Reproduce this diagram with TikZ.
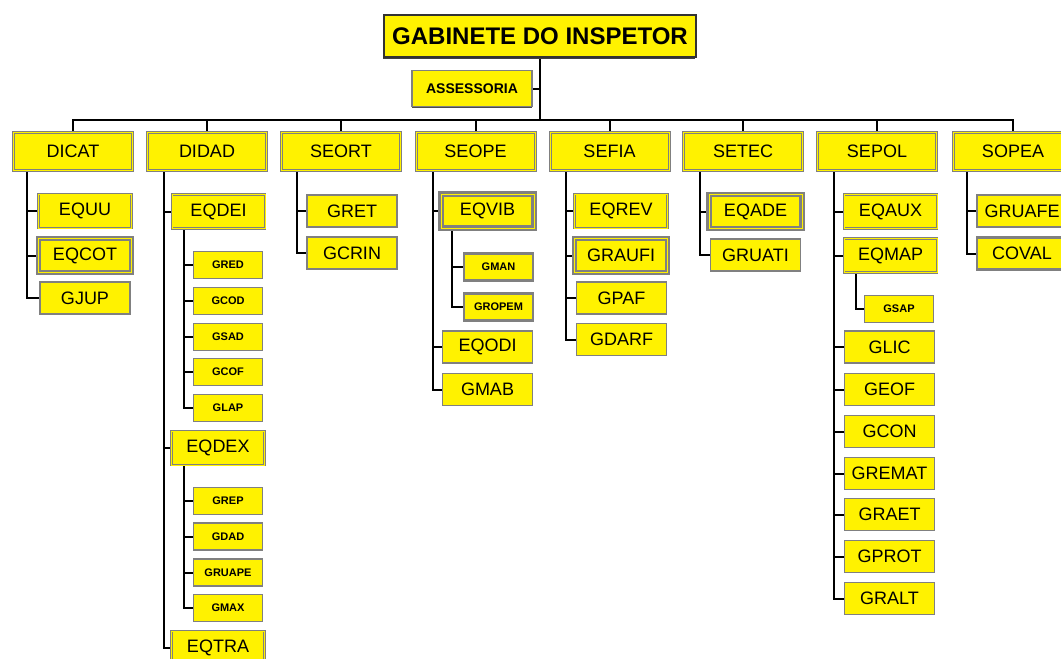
\documentclass[tikz,border=0pt]{standalone}
\usepackage{fontspec}
\setmainfont{Liberation Sans}
\usetikzlibrary{shadows,backgrounds}
\begin{document}
\begin{tikzpicture}[x=1pt,y=-1pt,
  chefe/.style={fill=yellow, draw=black!80, line width=2pt, minimum width=312pt, minimum height=42pt, inner sep=0pt,
    drop shadow={shadow xshift=-1pt, shadow yshift=-1.5pt, fill=black!75, opacity=1},
    font=\fontsize{24}{26}\selectfont\bfseries},
  assessor/.style={fill=yellow, draw=gray, line width=1.6pt, minimum width=120pt, minimum height=36pt, inner sep=0pt,
    drop shadow={shadow xshift=0pt, shadow yshift=-1.5pt, fill=black!70, opacity=1},
    font=\fontsize{14}{16}\selectfont\bfseries},
  secao/.style={fill=yellow, draw=gray, double=yellow, double distance=1pt, line width=1pt,
    minimum width=119pt, minimum height=38pt, inner sep=0pt,
    drop shadow={shadow xshift=0pt, shadow yshift=-1.8pt, fill=black!75, opacity=1},
    font=\fontsize{18}{20}\selectfont},
  equipe/.style={fill=yellow, draw=gray, double=yellow, double distance=0.8pt, line width=1pt,
    minimum width=93pt, minimum height=34pt, inner sep=0pt, font=\fontsize{18}{20}\selectfont},
  grupo/.style={fill=yellow, draw=gray, line width=1.3pt,
    minimum width=90pt, minimum height=32pt, inner sep=0pt, font=\fontsize{18}{20}\selectfont},
  sub/.style={fill=yellow, draw=gray, line width=1.3pt,
    minimum width=69pt, minimum height=27pt, inner sep=0pt, font=\fontsize{11}{12}\selectfont\bfseries},
  forte/.style={line width=2.4pt},
  link/.style={draw=black, line width=2pt}]
\useasboundingbox (0,0) rectangle (1061,659);
\clip (0,0) rectangle (1061,659);

\node[chefe] (gab) at (540,36) {GABINETE DO INSPETOR};
\node[assessor] (assess) at (472,88.5) {ASSESSORIA};
\coordinate (bar) at (540,120);

\node[secao] (dicat) at (73,151.5) {DICAT};
\node[secao] (didad) at (207,151.5) {DIDAD};
\node[secao] (seort) at (341,151.5) {SEORT};
\node[secao] (seope) at (475.5,151.5) {SEOPE};
\node[secao] (sefia) at (609.5,151.5) {SEFIA};
\node[secao] (setec) at (743,151.5) {SETEC};
\node[secao] (sepol) at (877,151.5) {SEPOL};
\node[secao] (sopea) at (1013,151.5) {SOPEA};

\node[equipe] (equu) at (85,211) {EQUU};
\node[equipe,forte] (eqcot) at (85,255.5) {EQCOT};
\node[grupo] (gjup) at (85,298) {GJUP};

\node[equipe] (eqdei) at (218.5,211.5) {EQDEI};
\node[sub] (gred) at (228,265) {GRED};
\node[sub] (gcod) at (228,301) {GCOD};
\node[sub] (gsad) at (228,337) {GSAD};
\node[sub] (gcof) at (228,372) {GCOF};
\node[sub] (glap) at (228,408) {GLAP};
\node[equipe] (eqdex) at (218,448) {EQDEX};
\node[sub] (grep) at (228,501) {GREP};
\node[sub] (gdad) at (228,536.5) {GDAD};
\node[sub] (gruape) at (228,572.5) {GRUAPE};
\node[sub] (gmax) at (228,608) {GMAX};
\node[equipe] (eqtra) at (218,648) {EQTRA};

\node[grupo] (gret) at (352,211) {GRET};
\node[grupo] (gcrin) at (352,253) {GCRIN};

\node[equipe,forte] (eqvib) at (487.5,211) {EQVIB};
\node[sub,forte] (gman) at (498.5,267) {GMAN};
\node[sub,forte] (gropem) at (498.5,307) {GROPEM};
\node[grupo] (eqodi) at (487.5,347) {EQODI};
\node[grupo] (gmab) at (487.5,389.5) {GMAB};

\node[equipe] (eqrev) at (621,211) {EQREV};
\node[equipe,forte] (graufi) at (621,255.5) {GRAUFI};
\node[grupo] (gpaf) at (621.5,298) {GPAF};
\node[grupo] (gdarf) at (621.5,339.5) {GDARF};

\node[equipe,forte] (eqade) at (755.5,211.5) {EQADE};
\node[grupo] (gruati) at (755.5,255) {GRUATI};

\node[equipe] (eqaux) at (890.5,211.5) {EQAUX};
\node[equipe] (eqmap) at (890.5,255.5) {EQMAP};
\node[sub] (gsap) at (899,309) {GSAP};
\node[grupo] (glic) at (889.5,347) {GLIC};
\node[grupo] (geof) at (889.5,389.5) {GEOF};
\node[grupo] (gcon) at (889.5,431.5) {GCON};
\node[grupo] (gremat) at (889.5,473.5) {GREMAT};
\node[grupo] (graet) at (889.5,514.5) {GRAET};
\node[grupo] (gprot) at (889.5,556.5) {GPROT};
\node[grupo] (gralt) at (889.5,598.5) {GRALT};

\node[grupo,forte] (gruafe) at (1022,211) {GRUAFE};
\node[grupo,forte] (coval) at (1022,253.5) {COVAL};

\begin{scope}[on background layer]
\draw[link] (gab.south) -- (bar);
\draw[link] (assess.east) -- (assess.east -| bar);
\foreach \s in {dicat,didad,seort,seope,sefia,setec,sepol,sopea}
  \draw[link] (\s.north) |- (bar);

\foreach \c in {equu,eqcot,gjup}
  \draw[link] (dicat.south west) ++(14,0) |- (\c.west);
\foreach \c in {eqdei,eqdex,eqtra}
  \draw[link] (didad.south west) ++(17,0) |- (\c.west);
\foreach \c in {gred,gcod,gsad,gcof,glap}
  \draw[link] (eqdei.south west) ++(12,0) |- (\c.west);
\foreach \c in {grep,gdad,gruape,gmax}
  \draw[link] (eqdex.south west) ++(13,0) |- (\c.west);
\foreach \c in {gret,gcrin}
  \draw[link] (seort.south west) ++(16,0) |- (\c.west);
\foreach \c in {eqvib,eqodi,gmab}
  \draw[link] (seope.south west) ++(17,0) |- (\c.west);
\foreach \c in {gman,gropem}
  \draw[link] (eqvib.south west) ++(12,0) |- (\c.west);
\foreach \c in {eqrev,graufi,gpaf,gdarf}
  \draw[link] (sefia.south west) ++(16,0) |- (\c.west);
\foreach \c in {eqade,gruati}
  \draw[link] (setec.south west) ++(17,0) |- (\c.west);
\foreach \c in {eqaux,eqmap,glic,geof,gcon,gremat,graet,gprot,gralt}
  \draw[link] (sepol.south west) ++(17,0) |- (\c.west);
\draw[link] (eqmap.south west) ++(12,0) |- (gsap.west);
\foreach \c in {gruafe,coval}
  \draw[link] (sopea.south west) ++(14,0) |- (\c.west);
\end{scope}
\end{tikzpicture}
\end{document}
